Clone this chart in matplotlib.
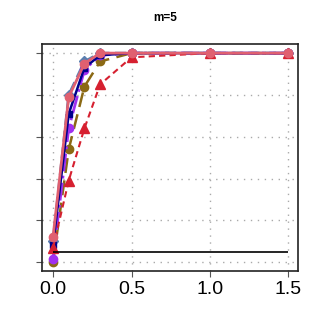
import matplotlib
matplotlib.use("Agg")
import matplotlib.pyplot as plt

plt.rcParams["font.family"] = ["Liberation Sans", "DejaVu Sans"]

x = [0, 0.1, 0.2, 0.3, 0.5, 1.0, 1.5]

# power curves, one per method
navy_sq = [0.08, 0.71, 0.93, 0.99, 1.0, 1.0, 1.0]
steel_dm = [0.10, 0.80, 0.96, 1.0, 1.0, 1.0, 1.0]
purple_ci = [0.015, 0.64, 0.92, 0.99, 1.0, 1.0, 1.0]
olive_ci = [0.0, 0.54, 0.84, 0.96, 1.0, 1.0, 1.0]
red_tri = [0.067, 0.39, 0.64, 0.85, 0.98, 1.0, 1.0]
salmon_ci = [0.12, 0.79, 0.95, 1.0, 1.0, 1.0, 1.0]

alpha_level = 0.05
title = "m=5"

fig = plt.figure(figsize=(3.21, 3.27), dpi=100)
ax = fig.add_axes([0.131, 0.171, 0.797, 0.694])

ax.plot(x, steel_dm, color="#5a7fb0", ls=(0, (4, 2)), lw=2, marker="D", ms=5)
ax.plot(x, olive_ci, color="#8b6914", ls=(0, (6, 3)), lw=1.8, marker="o", ms=6)
ax.plot(x, purple_ci, color="#a030f0", ls="-.", lw=2, marker="o", ms=6)
ax.plot(x, navy_sq, color="#00008b", ls="-", lw=1.8, marker="s", ms=5)
ax.plot(x, red_tri, color="#d62030", ls=(0, (3, 2)), lw=1.5, marker="^", ms=7)
ax.plot(x, salmon_ci, color="#e06070", ls="-", lw=2, marker="o", ms=6)

ax.hlines(alpha_level, x[0], x[-1], color="black", lw=1.2)

ax.set_xlim(-0.07, 1.56)
ax.set_ylim(-0.043, 1.043)
ax.set_xticks([0.0, 0.5, 1.0, 1.5])
ax.set_xticklabels(["0.0", "0.5", "1.0", "1.5"])
ax.set_yticks([0, 0.2, 0.4, 0.6, 0.8, 1.0])
ax.set_yticklabels([])
ax.tick_params(labelsize=14, length=4, color="#555555")
ax.grid(True, ls=(0, (1, 4)), color="#aaaaaa", lw=1)
for s in ax.spines.values():
    s.set_color("#222222")
    s.set_linewidth(1.2)

fig.text(0.515, 0.945, title, ha="center", va="center", fontsize=8.5, fontweight="bold")

fig.savefig("out.png", dpi=100)
